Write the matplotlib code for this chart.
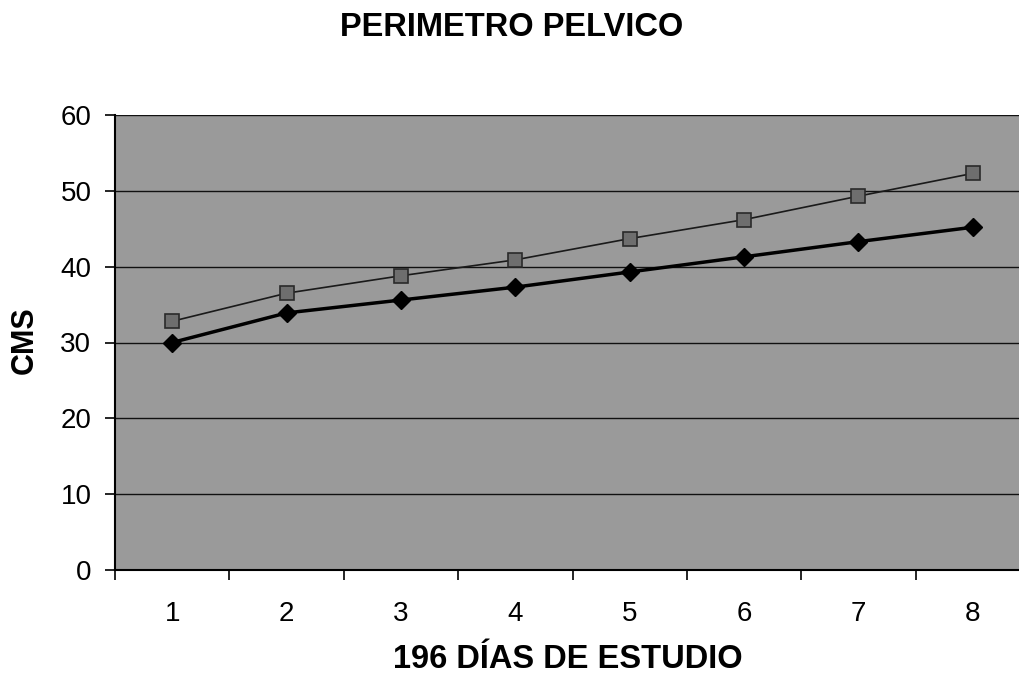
import matplotlib.pyplot as plt
import numpy as np

plt.rcParams['font.family'] = ['Liberation Sans', 'DejaVu Sans']

dias = [1, 2, 3, 4, 5, 6, 7, 8]
serie_cuadros = [32.8, 36.5, 38.8, 40.9, 43.7, 46.2, 49.3, 52.3]
serie_rombos = [30.0, 33.9, 35.6, 37.3, 39.3, 41.3, 43.3, 45.2]
yticks = [0, 10, 20, 30, 40, 50, 60]

W, H = 1019, 681
fig = plt.figure(figsize=(W / 100, H / 100), dpi=100)
ax = fig.add_axes([115 / W, 1 - 570 / H, 915 / W, 455 / H])
ax.set_facecolor('#9a9a9a')

ax.plot(dias, serie_cuadros, color='#1a1a1a', lw=1.2, marker='s', ms=10,
        mfc='#6e6e6e', mec='#2a2a2a', mew=1.2, zorder=3)
ax.plot(dias, serie_rombos, color='black', lw=2.5, marker='D', ms=9,
        mfc='black', mec='black', zorder=4)

ax.set_xlim(0.5, 8.5)
ax.set_ylim(0, 60)
ax.set_yticks(yticks)
ax.set_xticks(dias)
ax.set_xticks(np.arange(0.5, 9, 1), minor=True)
ax.tick_params(axis='x', which='major', length=0, pad=22, labelsize=20)
ax.tick_params(axis='x', which='minor', length=7, width=1.2, direction='out')
ax.tick_params(axis='y', length=7, width=1.2, labelsize=20, pad=10)
ax.grid(axis='y', color='#111111', lw=1.0)
ax.set_axisbelow(True)

for side in ['top', 'right']:
    ax.spines[side].set_visible(False)
ax.spines['left'].set_linewidth(1.5)
ax.spines['bottom'].set_linewidth(1.5)

fig.text(512 / W, 1 - 27 / H, 'PERIMETRO PELVICO', ha='center', va='center',
         fontsize=23.5, fontweight='bold')
fig.text(25 / W, 1 - 340 / H, 'CMS', ha='center', va='center', rotation=90,
         fontsize=22, fontweight='bold')
fig.text(568 / W, 1 - 660 / H, '196 DÍAS DE ESTUDIO', ha='center', va='center',
         fontsize=23.5, fontweight='bold')

fig.savefig('out.png', dpi=100, facecolor='white')
